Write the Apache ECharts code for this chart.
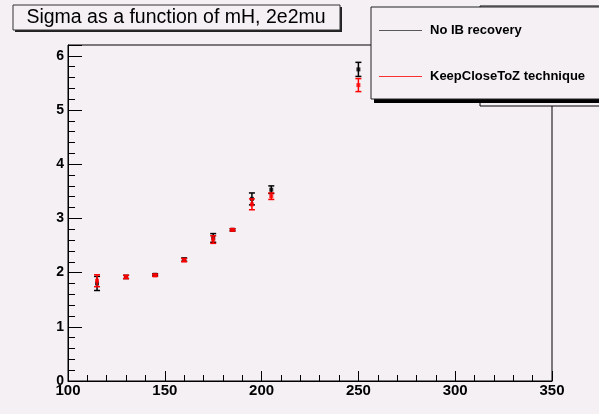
<!DOCTYPE html>
<html>
<head>
<meta charset="utf-8">
<script src="https://cdn.jsdelivr.net/npm/echarts@6/dist/echarts.min.js"></script>
<style>
html, body { margin: 0; padding: 0; background: #f4f0f4; }
#main { width: 599px; height: 414px; }
</style>
</head>
<body>
<div id="main"></div>
<script>
// Higgs mass points (GeV)
var masses = [115, 130, 145, 160, 175, 185, 195, 205, 250];

// sigma without IB recovery
var sigmaNoIB = [1.80, 1.92, 1.96, 2.24, 2.64, 2.79, 3.36, 3.53, 5.75];
var errNoIB   = [0.13, 0.03, 0.02, 0.03, 0.08, 0.02, 0.11, 0.07, 0.13];

// sigma with KeepCloseToZ
var sigmaKeep = [1.85, 1.92, 1.95, 2.23, 2.61, 2.79, 3.26, 3.41, 5.46];
var errKeep   = [0.11, 0.03, 0.02, 0.03, 0.07, 0.02, 0.10, 0.06, 0.12];

var seriesNames = ['No IB recovery', 'KeepCloseToZ technique'];
var seriesColors = ['#000000', '#ff0000'];

var bg = '#f4f0f4';
var font = 'Liberation Sans, Arial, Helvetica, sans-serif';

function errorBars(name, color, vals, errs, z) {
    return {
        name: name + ' err',
        type: 'custom',
        z: z,
        silent: true,
        data: masses.map(function (m, i) {
            return [m, vals[i] - errs[i], vals[i] + errs[i]];
        }),
        renderItem: function (params, api) {
            var lo = api.coord([api.value(0), api.value(1)]);
            var hi = api.coord([api.value(0), api.value(2)]);
            var w = 3;
            var st = { stroke: color, lineWidth: 1.5 };
            return {
                type: 'group',
                children: [
                    { type: 'line', shape: { x1: lo[0], y1: lo[1], x2: hi[0], y2: hi[1] }, style: st },
                    { type: 'line', shape: { x1: lo[0] - w, y1: lo[1], x2: lo[0] + w, y2: lo[1] }, style: st },
                    { type: 'line', shape: { x1: hi[0] - w, y1: hi[1], x2: hi[0] + w, y2: hi[1] }, style: st }
                ]
            };
        }
    };
}

function markers(name, color, vals, z) {
    return {
        name: name,
        type: 'scatter',
        z: z,
        symbol: 'rect',
        symbolSize: 4,
        itemStyle: { color: color },
        data: masses.map(function (m, i) { return [m, vals[i]]; })
    };
}

var chart = echarts.init(document.getElementById('main'));
chart.setOption({
    animation: false,
    backgroundColor: bg,
    grid: {
        left: 68, right: 47, top: 45, bottom: 33,
        show: true, borderColor: '#000', borderWidth: 1, backgroundColor: 'transparent'
    },
    xAxis: {
        type: 'value', min: 100, max: 350, interval: 50,
        axisLine: { show: true, lineStyle: { color: '#000', width: 1 } },
        axisTick: { show: true, inside: true, length: 10, lineStyle: { color: '#000' } },
        minorTick: { show: true, splitNumber: 5, length: 6, lineStyle: { color: '#000' } },
        splitLine: { show: false },
        axisLabel: { color: '#000', fontWeight: 'bold', fontSize: 15, fontFamily: font, margin: 2 }
    },
    yAxis: [{
        type: 'value', min: 0, max: 6.2, interval: 1, position: 'left',
        axisLine: { show: true, lineStyle: { color: '#000', width: 1 } },
        axisTick: { show: true, inside: true, length: 14, lineStyle: { color: '#000' } },
        splitLine: { show: false },
        axisLabel: {
            color: '#000', fontWeight: 'bold', fontSize: 14, fontFamily: font, margin: 4,
            formatter: function (v) { return v % 1 === 0 ? String(v) : ''; }
        }
    }, {
        type: 'value', min: 0, max: 6.2, interval: 0.2, position: 'left',
        axisLine: { show: false },
        axisTick: { show: true, inside: true, length: 7, lineStyle: { color: '#000' } },
        splitLine: { show: false },
        axisLabel: { show: false }
    }],
    legend: {
        orient: 'vertical',
        left: 371, top: 7,
        z: 20,
        padding: [16, 60, 15, 8],
        itemWidth: 43, itemHeight: 1,
        itemGap: 31,
        backgroundColor: 'transparent',
        textStyle: { color: '#000', fontWeight: 'bold', fontSize: 13, fontFamily: font, lineHeight: 15, padding: [0, 0, 0, 3] },
        data: [
            { name: seriesNames[0], icon: 'rect', itemStyle: { color: '#333' } },
            { name: seriesNames[1], icon: 'rect', itemStyle: { color: seriesColors[1] } }
        ]
    },
    graphic: [
        // box hidden behind the legend
        { type: 'rect', z: 3, shape: { x: 480, y: 6, width: 140, height: 100 },
          style: { fill: bg, stroke: '#000', lineWidth: 1 } },
        // legend box with shadow
        { type: 'rect', z: 4, shape: { x: 374, y: 11, width: 240, height: 92 }, style: { fill: '#000' } },
        { type: 'rect', z: 5, shape: { x: 371, y: 7, width: 240, height: 92 },
          style: { fill: bg, stroke: '#222', lineWidth: 1 } },
        // title box
        { type: 'rect', z: 4, shape: { x: 15, y: 7, width: 327, height: 25 }, style: { fill: '#222' } },
        { type: 'rect', z: 5, shape: { x: 13, y: 5, width: 327, height: 25 },
          style: { fill: bg, stroke: '#333', lineWidth: 1 } },
        { type: 'text', z: 6, style: {
            text: 'Sigma as a function of mH, 2e2mu', x: 176, y: 18,
            textAlign: 'center', textVerticalAlign: 'middle',
            font: '19.5px ' + font, fill: '#000'
        } }
    ],
    series: [
        errorBars(seriesNames[0], seriesColors[0], sigmaNoIB, errNoIB, 2),
        markers(seriesNames[0], seriesColors[0], sigmaNoIB, 3),
        errorBars(seriesNames[1], seriesColors[1], sigmaKeep, errKeep, 4),
        markers(seriesNames[1], seriesColors[1], sigmaKeep, 5)
    ]
});
</script>
</body>
</html>
